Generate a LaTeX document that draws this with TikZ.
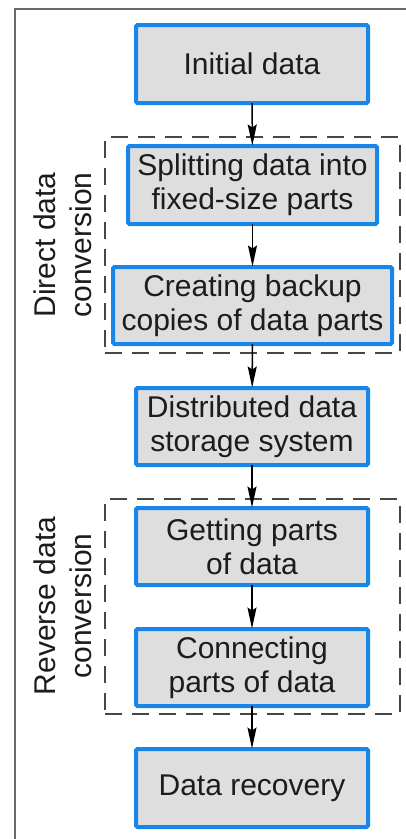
\documentclass[tikz,border=0pt]{standalone}
\usepackage{fontspec}
\setmainfont{Liberation Sans}
\usetikzlibrary{arrows.meta}
\definecolor{boxblue}{RGB}{24,134,232}
\definecolor{boxfill}{RGB}{222,222,222}
\definecolor{txt}{RGB}{28,28,28}
\definecolor{framegray}{RGB}{105,105,105}
\definecolor{dashgray}{RGB}{70,70,70}
\tikzset{
  procbox/.style={draw=boxblue, fill=boxfill, line width=4pt, rounded corners=1.5pt,
    text=txt, align=center, inner sep=0pt, outer sep=0pt,
    font=\fontsize{30}{34}\selectfont},
  arr/.style={draw=black, line width=1.5pt, -{Stealth[length=21pt,width=9pt,inset=3pt]}, shorten >=0.5pt},
  grp/.style={draw=dashgray, line width=1.2pt, dash pattern=on 17pt off 10pt},
  grplabel/.style={rotate=90, align=center, text=txt, inner sep=0pt,
    font=\fontsize{30}{36}\selectfont},
  frame/.style={draw=framegray, line width=2pt}
}
\begin{document}
\begin{tikzpicture}[x=1pt, y=-1pt]
\useasboundingbox (0,0) rectangle (405,839);
\draw[frame] (15,845) -- (15,9) -- (410,9);

\node[grp, minimum width=295pt, minimum height=216pt, inner sep=0pt] (g1) at (252.5,245) {};
\node[grp, minimum width=295pt, minimum height=215pt, inner sep=0pt] (g2) at (252.5,606.5) {};

\node[procbox, minimum width=232pt, minimum height=78pt] (init) at (252,64) {Initial data};
\node[procbox, minimum width=249pt, minimum height=78pt] (split) at (252.5,185) {Splitting data into\\fixed-size parts};
\node[procbox, minimum width=279pt, minimum height=77pt] (create) at (252.5,305.5) {Creating backup\\copies of data parts};
\node[procbox, minimum width=232pt, minimum height=77pt] (dist) at (252,426.5) {Distributed data\\storage system};
\node[procbox, minimum width=232pt, minimum height=77pt] (get) at (252,546.5) {Getting parts\\of data};
\node[procbox, minimum width=232pt, minimum height=77pt] (conn) at (252,667.5) {Connecting\\parts of data};
\node[procbox, minimum width=232pt, minimum height=78pt] (recov) at (252,788) {Data recovery};

\node[grplabel] (l1) at (63,245) {Direct data\\conversion};
\node[grplabel] (l2) at (63,606) {Reverse data\\conversion};

\draw[arr] (init) -- (split);
\draw[arr] (split) -- (create);
\draw[arr] (create) -- (dist);
\draw[arr] (dist) -- (get);
\draw[arr] (get) -- (conn);
\draw[arr] (conn) -- (recov);
\end{tikzpicture}
\end{document}
